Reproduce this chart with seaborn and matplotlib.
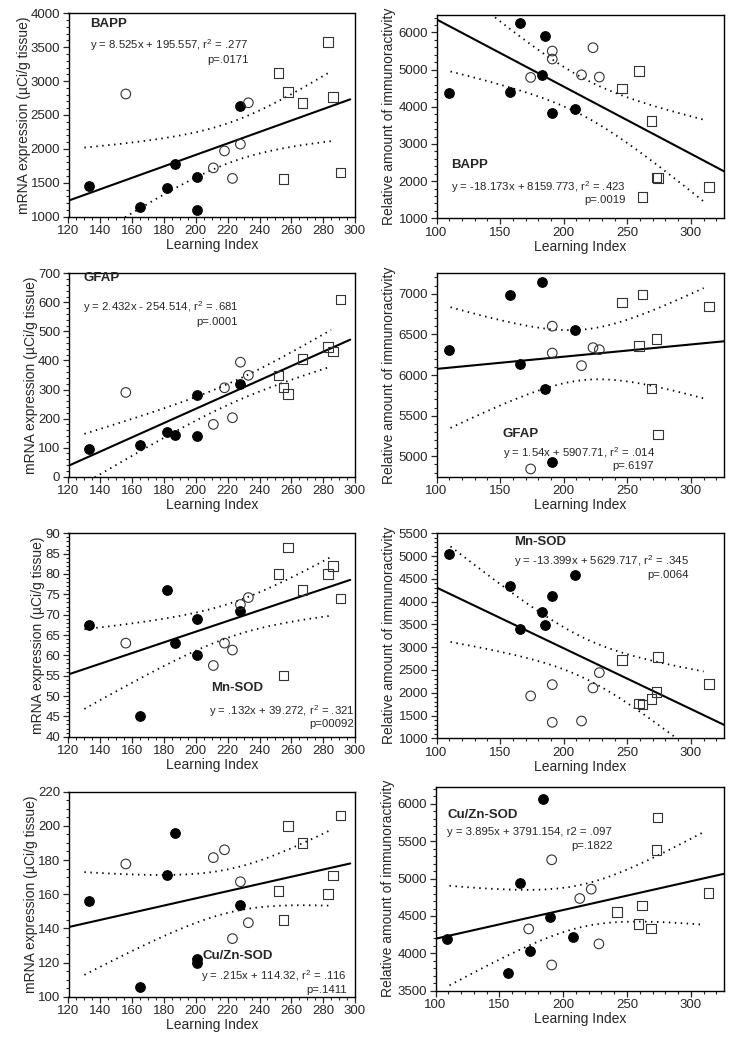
import numpy as np
import pandas as pd
import seaborn as sns
import matplotlib.pyplot as plt
from matplotlib.ticker import MultipleLocator

# learning index of each animal, left column (mRNA panels)
mrna_x_filled = [133, 165, 182, 187, 201, 201, 228]
mrna_x_open = [156, 211, 218, 223, 228, 233]
mrna_x_square = [252, 255, 258, 267, 283, 286, 291]

# learning index of each animal, right column (protein panels)
prot_x_filled = [110, 158, 166, 183, 185, 191, 209]
prot_x_open = [174, 191, 191, 214, 223, 228]
prot_x_square = [246, 259, 262, 269, 273, 274, 314]
cuzn_prot_x_filled = [109, 157, 166, 174, 184, 190, 208]
cuzn_prot_x_open = [173, 191, 191, 213, 222, 228]
cuzn_prot_x_square = [242, 259, 262, 269, 273, 274, 314]

# mRNA expression (uCi/g tissue)
bapp_mrna_filled = [1455, 1140, 1420, 1770, 1590, 1105, 2630]
bapp_mrna_open = [2810, 1720, 1970, 1565, 2070, 2680]
bapp_mrna_square = [3115, 1560, 2835, 2680, 3580, 2765, 1650]

gfap_mrna_filled = [97, 109, 155, 143, 281, 140, 320]
gfap_mrna_open = [290, 180, 306, 203, 394, 349]
gfap_mrna_square = [348, 307, 285, 405, 446, 431, 610]

mnsod_mrna_filled = [67.5, 45, 76, 63, 69, 60, 71]
mnsod_mrna_open = [63, 57.5, 63, 61.3, 72.5, 74.2]
mnsod_mrna_square = [80, 55, 86.5, 76, 80, 82, 74]

cuzn_mrna_filled = [155.8, 105.5, 171.5, 196, 122, 120, 153.5]
cuzn_mrna_open = [177.7, 181.4, 186, 134, 167.3, 143.3]
cuzn_mrna_square = [162, 145, 200, 190, 160, 171, 206]

# relative amount of immunoreactivity
bapp_prot_filled = [4380, 4405, 6260, 4860, 5900, 3820, 3950]
bapp_prot_open = [4790, 5500, 5285, 4860, 5590, 4800]
bapp_prot_square = [4495, 4970, 1580, 3610, 2100, 2080, 1850]

gfap_prot_filled = [6307, 6980, 6140, 7145, 5825, 4930, 6557]
gfap_prot_open = [4845, 6600, 6270, 6115, 6336, 6311]
gfap_prot_square = [6893, 6356, 6988, 5832, 6442, 5270, 6840]

mnsod_prot_filled = [5050, 4350, 3400, 3775, 3495, 4117, 4593]
mnsod_prot_open = [1930, 2178, 1351, 1380, 2105, 2441]
mnsod_prot_square = [2720, 1768, 1746, 1863, 2017, 2778, 2193]

cuzn_prot_filled = [4188, 3741, 4939, 4036, 6066, 4492, 4215]
cuzn_prot_open = [4327, 5252, 3844, 4734, 4859, 4126]
cuzn_prot_square = [4550, 4394, 4640, 4331, 5386, 5820, 4805]

names = ["BAPP", "BAPP", "GFAP", "GFAP", "Mn-SOD", "Mn-SOD", "Cu/Zn-SOD", "Cu/Zn-SOD"]
equations = [
    "y = 8.525x + 195.557, r$^2$ = .277",
    "y = -18.173x + 8159.773, r$^2$ = .423",
    "y = 2.432x - 254.514, r$^2$ = .681",
    "y = 1.54x + 5907.71, r$^2$ = .014",
    "y = .132x + 39.272, r$^2$ = .321",
    "y = -13.399x + 5629.717, r$^2$ = .345",
    "y = .215x + 114.32, r$^2$ = .116",
    "y = 3.895x + 3791.154, r2 = .097",
]
pvalues = ["p=.0171", "p=.0019", "p=.0001", "p=.6197", "p=00092", "p=.0064", "p=.1411", "p=.1822"]

mrna_label = "mRNA expression (\u00b5Ci/g tissue)"
prot_label = "Relative amount of immunoractivity"

sns.set_style("ticks")
plt.rcParams["font.family"] = ["Liberation Sans", "DejaVu Sans"]
plt.rcParams["mathtext.fontset"] = "custom"
plt.rcParams["mathtext.rm"] = "Liberation Sans"

W, H = 739, 1044
fig = plt.figure(figsize=(W / 100, H / 100), dpi=100)

# pixel boxes (left, top, right, bottom) for each panel
boxes = [
    (68.5, 13.3, 355, 216.7), (436.5, 15, 724, 218.3),
    (68.5, 273.3, 355, 476.7), (436.5, 273.3, 724, 476.7),
    (68.5, 533.3, 355, 736.7), (436.5, 533.3, 724, 738.3),
    (68.5, 791.7, 355, 996.7), (435.5, 786.7, 724, 990.7),
]

panels = [
    (mrna_x_filled, mrna_x_open, mrna_x_square, bapp_mrna_filled, bapp_mrna_open, bapp_mrna_square),
    (prot_x_filled, prot_x_open, prot_x_square, bapp_prot_filled, bapp_prot_open, bapp_prot_square),
    (mrna_x_filled, mrna_x_open, mrna_x_square, gfap_mrna_filled, gfap_mrna_open, gfap_mrna_square),
    (prot_x_filled, prot_x_open, prot_x_square, gfap_prot_filled, gfap_prot_open, gfap_prot_square),
    (mrna_x_filled, mrna_x_open, mrna_x_square, mnsod_mrna_filled, mnsod_mrna_open, mnsod_mrna_square),
    (prot_x_filled, prot_x_open, prot_x_square, mnsod_prot_filled, mnsod_prot_open, mnsod_prot_square),
    (mrna_x_filled, mrna_x_open, mrna_x_square, cuzn_mrna_filled, cuzn_mrna_open, cuzn_mrna_square),
    (cuzn_prot_x_filled, cuzn_prot_x_open, cuzn_prot_x_square, cuzn_prot_filled, cuzn_prot_open, cuzn_prot_square),
]

ylims = [(1000, 4000), (1000, 6470), (0, 700), (4750, 7250), (40, 90), (1000, 5500), (100, 220), (3500, 6230)]
ymajor = [500, 1000, 100, 500, 5, 500, 20, 500]
yminor = [100, 200, 20, 100, 1, 100, 5, 100]

# text placement in axes fraction: (name xy, eq xy, p xy, eq align)
text_pos = [
    ((0.076, 0.948), (0.074, 0.844), (0.628, 0.770), "left"),
    ((0.050, 0.262), (0.050, 0.152), (0.659, 0.090), "left"),
    ((0.052, 0.975), (0.050, 0.836), (0.590, 0.762), "left"),
    ((0.230, 0.212), (0.230, 0.117), (0.756, 0.052), "left"),
    ((0.498, 0.238), (0.997, 0.126), (0.997, 0.060), "right"),
    ((0.269, 0.956), (0.269, 0.862), (0.879, 0.797), "left"),
    ((0.467, 0.200), (0.971, 0.100), (0.971, 0.033), "right"),
    ((0.040, 0.861), (0.040, 0.778), (0.614, 0.711), "left"),
]

T_CRIT = 2.101  # t(0.975, df=18)

for i, (box, data) in enumerate(zip(boxes, panels)):
    l, t, r, b = box
    ax = fig.add_axes([l / W, 1 - b / H, (r - l) / W, (b - t) / H])
    xf, xo, xs, yf, yo, ys = data
    left = i % 2 == 0

    df = pd.concat([
        pd.DataFrame({"x": xf, "y": yf, "grp": "filled"}),
        pd.DataFrame({"x": xo, "y": yo, "grp": "open"}),
        pd.DataFrame({"x": xs, "y": ys, "grp": "square"}),
    ], ignore_index=True)

    # regression line and 95% confidence band from the points
    X = df["x"].to_numpy(float)
    Y = df["y"].to_numpy(float)
    slope, icept = np.polyfit(X, Y, 1)
    n = len(X)
    resid = Y - (slope * X + icept)
    s = np.sqrt(np.sum(resid ** 2) / (n - 2))
    sxx = np.sum((X - X.mean()) ** 2)

    line_rng = (120, 297) if left else (100, 326)
    band_rng = (130, 285) if left else (111, 310)
    lx = np.linspace(*line_rng, 50)
    ax.plot(lx, slope * lx + icept, color="black", lw=1.5, zorder=2)
    bx = np.linspace(*band_rng, 100)
    half = T_CRIT * s * np.sqrt(1 / n + (bx - X.mean()) ** 2 / sxx)
    for sign in (1, -1):
        ax.plot(bx, slope * bx + icept + sign * half, color="black", lw=1.3,
                ls=(0, (0.8, 2.5)), zorder=2)

    sns.scatterplot(data=df[df.grp == "filled"], x="x", y="y", ax=ax, marker="o",
                    s=48, color="black", edgecolor="black", linewidth=0.8, zorder=3, legend=False)
    sns.scatterplot(data=df[df.grp == "open"], x="x", y="y", ax=ax, marker="o",
                    s=48, facecolor="none", edgecolor="#333333", linewidth=0.8, zorder=3, legend=False)
    sns.scatterplot(data=df[df.grp == "square"], x="x", y="y", ax=ax, marker="s",
                    s=48, facecolor="none", edgecolor="#333333", linewidth=0.8, zorder=3, legend=False)

    if left:
        ax.set_xlim(120, 300)
        ax.xaxis.set_major_locator(MultipleLocator(20))
        ax.xaxis.set_minor_locator(MultipleLocator(5))
        ax.set_ylabel(mrna_label, fontsize=10, labelpad=0)
    else:
        ax.set_xlim(100, 326)
        ax.xaxis.set_major_locator(MultipleLocator(50))
        ax.xaxis.set_minor_locator(MultipleLocator(10))
        ax.set_ylabel(prot_label, fontsize=10, labelpad=2)
    ax.set_ylim(*ylims[i])
    ax.yaxis.set_major_locator(MultipleLocator(ymajor[i]))
    ax.yaxis.set_minor_locator(MultipleLocator(yminor[i]))
    ax.set_xlabel("Learning Index", fontsize=10, labelpad=1)

    ax.tick_params(which="major", direction="out", length=4.5, width=0.9, labelsize=9.5, pad=1.5)
    ax.tick_params(which="minor", direction="out", length=2.5, width=0.8)
    for sp in ax.spines.values():
        sp.set_visible(True)
        sp.set_linewidth(1.0)
        sp.set_color("black")

    npos, epos, ppos, ealign = text_pos[i]
    ax.text(*npos, names[i], transform=ax.transAxes, fontsize=9.5, fontweight="bold",
            ha="left", va="center")
    ax.text(*epos, equations[i], transform=ax.transAxes, fontsize=8.2, ha=ealign, va="center")
    ax.text(*ppos, pvalues[i], transform=ax.transAxes, fontsize=8.2, ha="right", va="center")

fig.savefig("out.png", dpi=100)
